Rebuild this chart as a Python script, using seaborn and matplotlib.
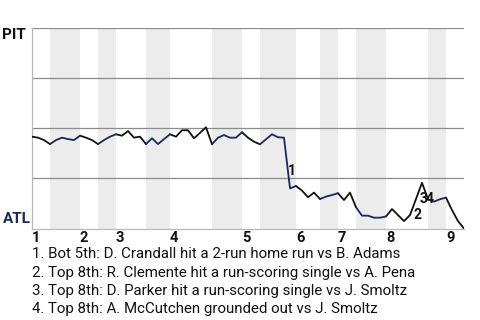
import matplotlib
matplotlib.use("Agg")
import matplotlib.pyplot as plt
import seaborn as sns
import pandas as pd

# ---- data ----
# PIT win probability after each plate appearance (0 = ATL wins, 1 = PIT wins)
wp = [0.458, 0.453, 0.441, 0.421, 0.441, 0.453, 0.446, 0.441, 0.463, 0.453,
      0.441, 0.421, 0.441, 0.458, 0.470, 0.463, 0.486, 0.453, 0.458, 0.421,
      0.450, 0.421, 0.446, 0.470, 0.458, 0.490, 0.490, 0.450, 0.477, 0.505,
      0.420, 0.453, 0.466, 0.453, 0.453, 0.480, 0.453, 0.433, 0.420, 0.445,
      0.470, 0.455, 0.453, 0.200, 0.212, 0.189, 0.156, 0.179, 0.147, 0.159,
      0.167, 0.176, 0.142, 0.179, 0.106, 0.064, 0.064, 0.054, 0.054, 0.060,
      0.097, 0.067, 0.037, 0.067, 0.147, 0.228, 0.146, 0.134, 0.146, 0.154,
      0.092, 0.037, 0.000]
inning_starts = [0, 8, 14, 23, 35, 44, 51, 59, 69]
bottom_starts = [3, 11, 19, 30, 38, 48, 54, 66]
game_end = 72
inning_labels = ["1", "2", "3", "4", "5", "6", "7", "8", "9"]
event_pa = [43, 64, 65, 66]
event_labels = ["1", "2", "3", "4"]
event_texts = [
    "1. Bot 5th: D. Crandall hit a 2-run home run vs B. Adams",
    "2. Top 8th: R. Clemente hit a run-scoring single vs A. Pena",
    "3. Top 8th: D. Parker hit a run-scoring single vs J. Smoltz",
    "4. Top 8th: A. McCutchen grounded out vs J. Smoltz",
]
teams = ["PIT", "ATL"]
team_colors = {"PIT": "#111111", "ATL": "#182a5a"}

# ---- build half-inning segments ----
bounds = sorted(inning_starts + bottom_starts) + [game_end]
rows = []
for h in range(len(bounds) - 1):
    s, e = bounds[h], bounds[h + 1]
    bat = "PIT" if s in inning_starts else "ATL"
    for k in range(s, e + 1):
        rows.append({"pa": k, "wp": wp[k], "bat": bat, "half": h})
df = pd.DataFrame(rows)

sns.set_style("white")
plt.rcParams["font.family"] = ["Roboto", "DejaVu Sans"]

fig = plt.figure(figsize=(4.8, 3.2), dpi=100)
ax = fig.add_axes([32 / 480, (320 - 228.5) / 320, 432 / 480, 200.5 / 320])

for s in bottom_starts:
    e = min([b for b in inning_starts + [game_end] if b > s])
    ax.axvspan(s, e, color="#ececec", lw=0, zorder=0)

for g in [0.25, 0.5, 0.75, 1.0]:
    ax.axhline(g, color="#8c8c8c", lw=0.9, zorder=1)

sns.lineplot(data=df, x="pa", y="wp", hue="bat", units="half", estimator=None,
             palette=team_colors, legend=False, lw=1.3, ax=ax, zorder=3)

ax.set_xlim(0, game_end)
ax.set_ylim(0, 1)
ax.set_xticks([])
ax.set_yticks([])
ax.set_xlabel("")
ax.set_ylabel("")
for side in ["top", "right"]:
    ax.spines[side].set_visible(False)
for side in ["left", "bottom"]:
    ax.spines[side].set_color("#b8b8b8")
    ax.spines[side].set_linewidth(0.9)

# team labels
ytr = ax.get_yaxis_transform()
ax.text(-30 / 432, 1.0, teams[0], transform=ytr, ha="left", va="top",
        fontsize=11, fontweight="bold", color=team_colors["PIT"])
ax.text(-29 / 432, 0.012, teams[1], transform=ytr, ha="left", va="bottom",
        fontsize=11, fontweight="bold", color=team_colors["ATL"])

# inning labels
xtr = ax.get_xaxis_transform()
for s, lab in zip(inning_starts, inning_labels):
    ax.text(s, -13.2 / 200.5, lab, transform=xtr, ha="left", va="baseline",
            fontsize=10.5, fontweight="bold", color="#111111")

# event markers
for k, lab in zip(event_pa, event_labels):
    mx = k - 0.5
    my = (wp[k - 1] + wp[k]) / 2
    ax.annotate(lab, xy=(mx, my), xytext=(3.6, -4.5), textcoords="offset points",
                ha="center", va="center_baseline", fontsize=10,
                fontweight="bold", color="#111111", zorder=5)

# event descriptions
for i, t in enumerate(event_texts):
    fig.text(32 / 480, 1 - (258.5 + 18 * i) / 320, t, ha="left", va="baseline",
             fontsize=10.8, color="#111111")

fig.savefig("out.png", dpi=100)
